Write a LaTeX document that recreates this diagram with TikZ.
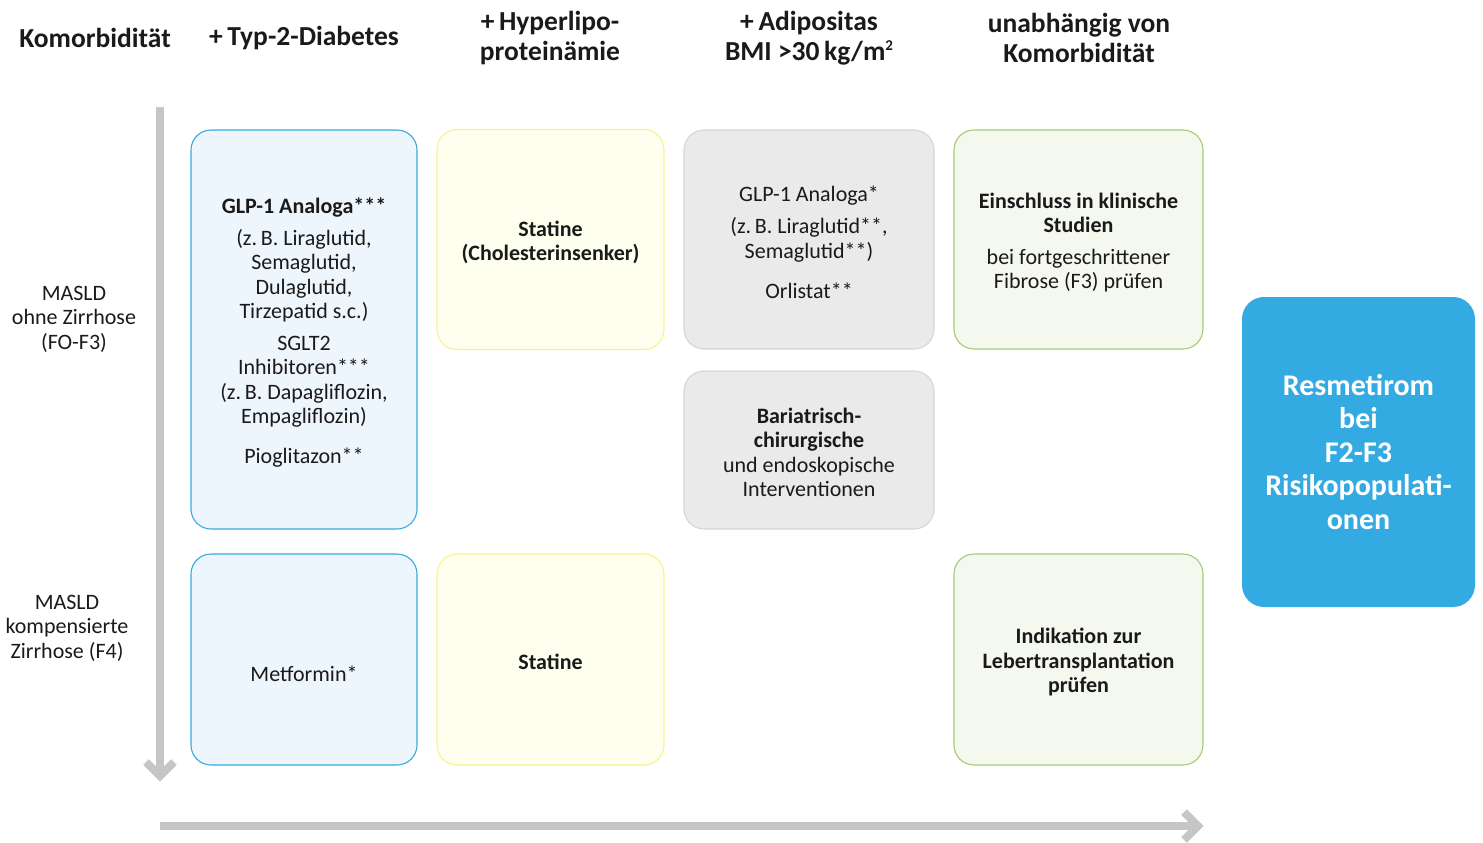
\documentclass[tikz,border=0pt]{standalone}
\usepackage{fontspec}
\setmainfont{Carlito}
\usetikzlibrary{calc}
\definecolor{txt}{HTML}{1A1A1A}
\definecolor{axisgray}{HTML}{C6C6C6}
\definecolor{bluefill}{HTML}{EEF6FD}
\definecolor{blueline}{HTML}{3AA9E0}
\definecolor{yelfill}{HTML}{FEFFEF}
\definecolor{yelline}{HTML}{F6F38F}
\definecolor{greyfill}{HTML}{EAEAEA}
\definecolor{greyline}{HTML}{D6D6D6}
\definecolor{grnfill}{HTML}{F4F8EE}
\definecolor{grnline}{HTML}{A2CE72}
\definecolor{resmet}{HTML}{33ABE2}
\newcommand{\sqsup}[1]{\raisebox{0.75ex}{\fontsize{15}{15}\selectfont #1}}
\tikzset{
  body/.style={font=\fontsize{22}{24.5}\selectfont, text=txt, align=center},
  head/.style={font=\fontsize{27.5}{30}\selectfont\bfseries, text=txt, align=center},
  cell/.style={body, rectangle, rounded corners=20pt, line width=1.1pt, inner sep=0pt},
  bluecell/.style={cell, draw=blueline, fill=bluefill},
  yelcell/.style={cell, draw=yelline, fill=yelfill},
  greycell/.style={cell, draw=greyline, fill=greyfill},
  grncell/.style={cell, draw=grnline, fill=grnfill},
  axisline/.style={draw=axisgray, line width=8pt, line join=miter, line cap=butt},
}
\begin{document}
\begin{tikzpicture}[x=1pt, y=-1pt]
\useasboundingbox (0,0) rectangle (1483,843);

% column headings
\node[head] (hkom) at (95,38) {Komorbidität};
\node[head] (hdia) at (304,38) {+\,Typ-2-Diabetes};
\node[head] (hlip) at (550,38) {+\,Hyperlipo-\\proteinämie};
\node[head] (hadi) at (809,38) {+\,Adipositas\\BMI >30\,kg/m\sqsup{2}};
\node[head] (hunab) at (1079,38) {unabhängig von\\Komorbidität};

% row labels
\node[body] (rtop) at (74,319) {MASLD\\ohne Zirrhose\\(FO-F3)};
\node[body] (rbot) at (67,628) {MASLD\\kompensierte\\Zirrhose (F4)};

% axes
\coordinate (vstart) at (160,107);
\coordinate (vend) at (160,776);
\coordinate (hstart) at (160,826);
\coordinate (hend) at (1198,826);
\draw[axisline] (vstart) -- (vend);
\draw[axisline] ($(vend)+(-14,-14)$) -- (vend) -- ($(vend)+(14,-14)$);
\draw[axisline] (hstart) -- (hend);
\draw[axisline] ($(hend)+(-14,-14)$) -- (hend) -- ($(hend)+(-14,14)$);

% cells (box and its text are placed separately so the text sits where it should)
% Typ-2-Diabetes column
\node[bluecell, minimum width=226pt, minimum height=399pt] (dia1) at (304,329.5) {};
\node[body] (dia1t) at (304,332.5)
  {\textbf{GLP-1 Analoga***}\\[7pt]
   (z.\,B. Liraglutid,\\Semaglutid,\\Dulaglutid,\\Tirzepatid s.c.)\\[7pt]
   SGLT2\\Inhibitoren***\\(z.\,B. Dapagliflozin,\\Empagliflozin)\\[15pt]
   Pioglitazon**};
\node[bluecell, minimum width=226pt, minimum height=211pt] (dia2) at (304,659.5) {};
\node[body] (dia2t) at (304,674) {Metformin*};

% Hyperlipoproteinaemie column
\node[yelcell, minimum width=227pt, minimum height=220pt] (lip1) at (550.5,239.5) {};
\node[body] (lip1t) at (550.5,242.5) {\textbf{Statine}\\\textbf{(Cholesterinsenker)}};
\node[yelcell, minimum width=227pt, minimum height=211pt] (lip2) at (550.5,659.5) {};
\node[body] (lip2t) at (550.5,662) {\textbf{Statine}};

% Adipositas column
\node[greycell, minimum width=250pt, minimum height=219pt] (adi1) at (809,239.5) {};
\node[body] (adi1t) at (809,242.5)
  {GLP-1 Analoga*\\[8pt]
   (z.\,B. Liraglutid**,\\Semaglutid**)\\[16pt]
   Orlistat**};
\node[greycell, minimum width=250pt, minimum height=158pt] (adi2) at (809,450) {};
\node[body] (adi2t) at (809,452.5)
  {\textbf{Bariatrisch-}\\\textbf{chirurgische}\\und endoskopische\\Interventionen};

% independent of comorbidity
\node[grncell, minimum width=249pt, minimum height=219pt] (unab1) at (1078.5,239.5) {};
\node[body] (unab1t) at (1078.5,242.5)
  {\textbf{Einschluss in klinische}\\\textbf{Studien}\\[7pt]
   bei fortgeschrittener\\Fibrose (F3) prüfen};
\node[grncell, minimum width=249pt, minimum height=211pt] (unab2) at (1078.5,659.5) {};
\node[body] (unab2t) at (1078.5,662)
  {\textbf{Indikation zur}\\\textbf{Lebertransplantation}\\\textbf{prüfen}};

% Resmetirom
\node[rectangle, rounded corners=22pt, fill=resmet, minimum width=233pt, minimum height=310pt,
      text=white, align=center, font=\fontsize{30}{33.5}\selectfont\bfseries] (resm) at (1358.5,452)
  {Resmetirom\\bei\\F2-F3\\Risikopopulati-\\onen};
\end{tikzpicture}
\end{document}
